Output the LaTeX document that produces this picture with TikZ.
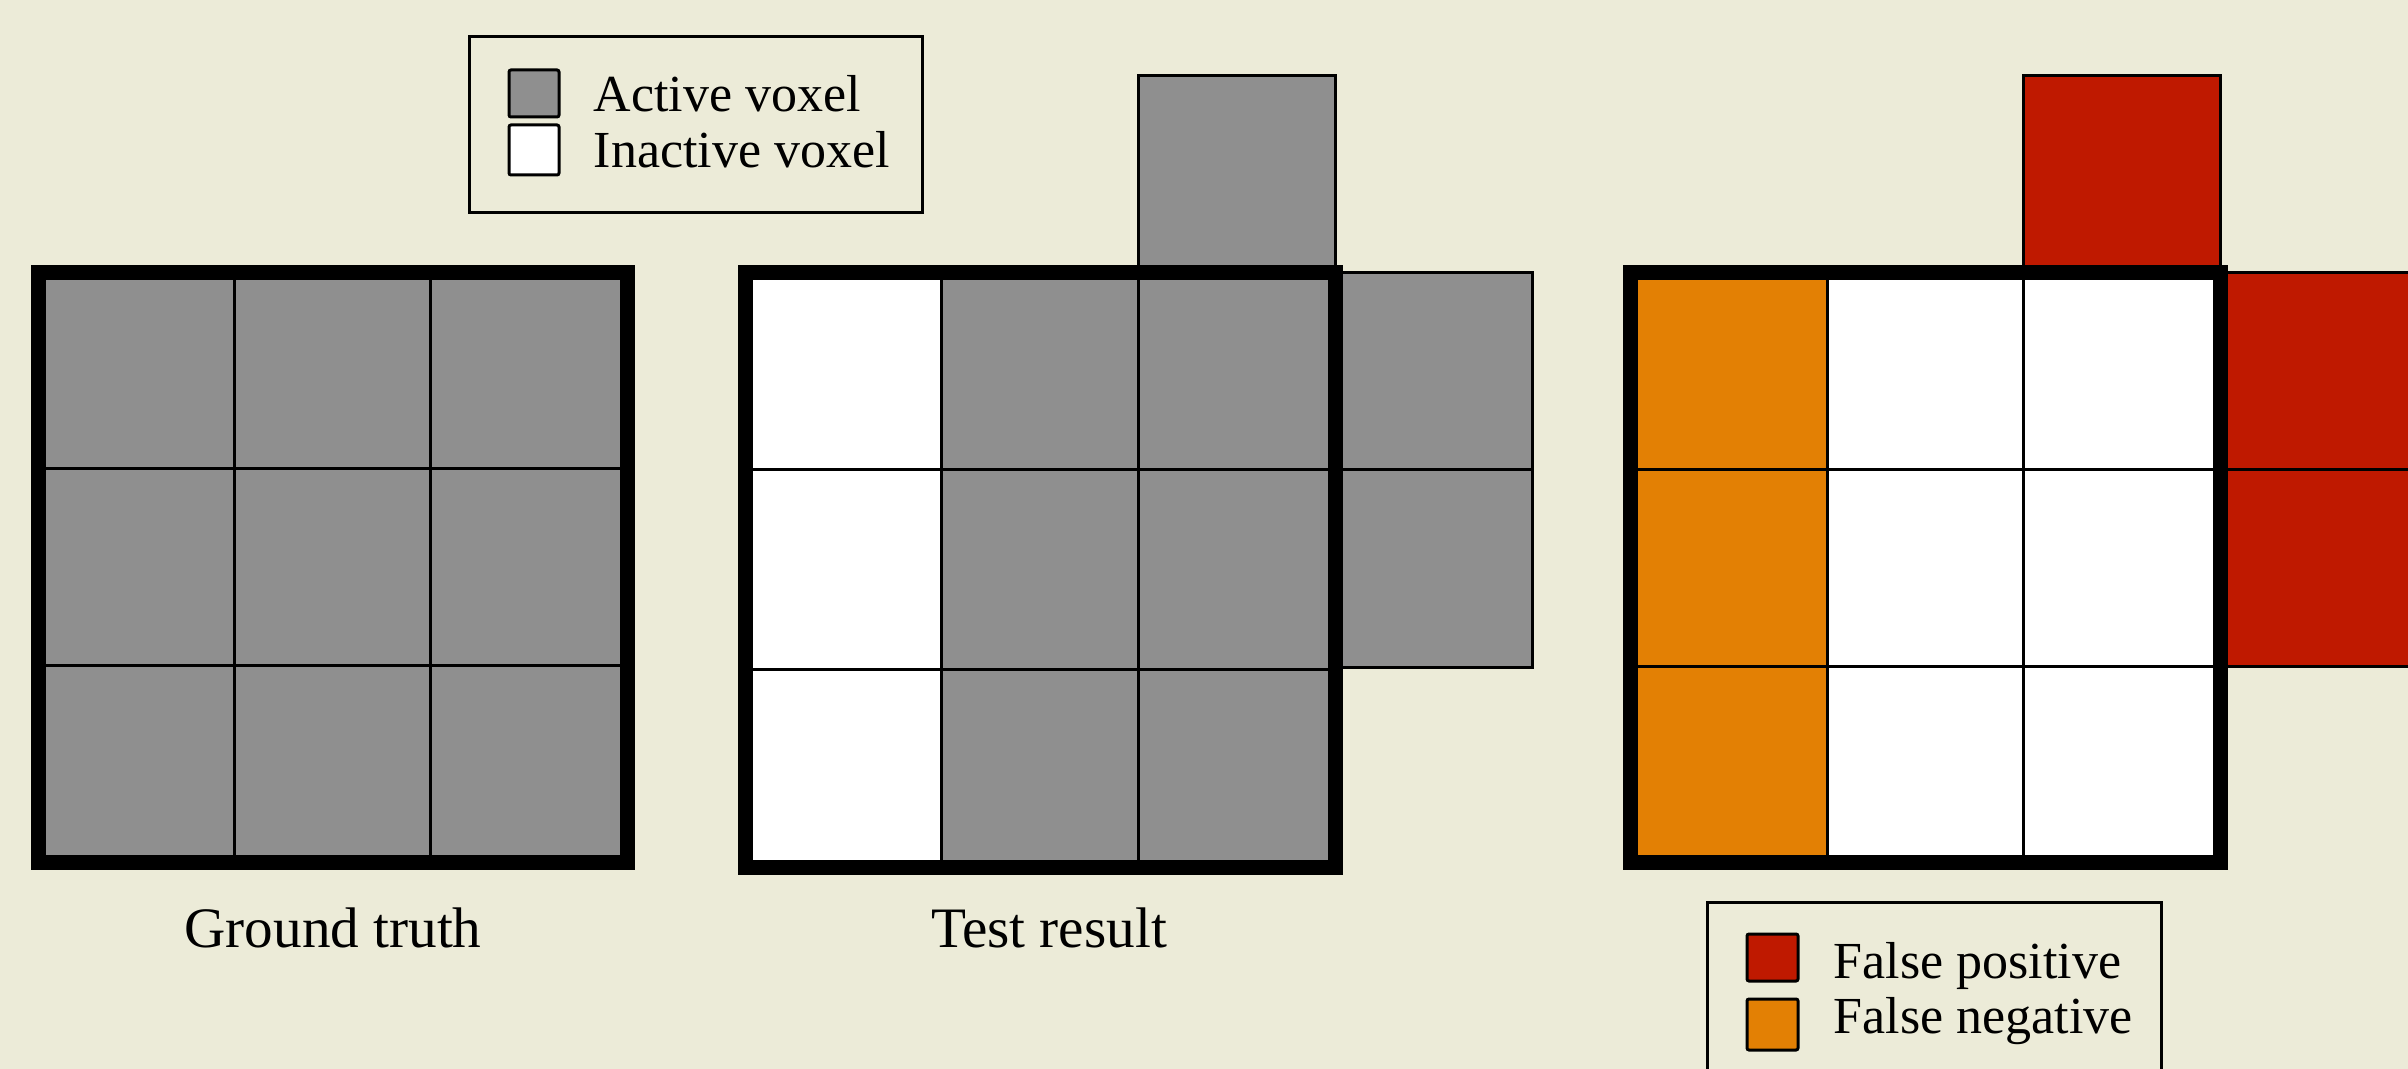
\documentclass[tikz,border=0pt]{standalone}
\usepackage{fontspec}
\setmainfont{Liberation Serif}
\definecolor{bg}{RGB}{236,235,216}
\definecolor{vgray}{RGB}{143,143,143}
\definecolor{fpred}{RGB}{191,25,0}
\definecolor{fnorange}{RGB}{227,128,4}
\begin{document}
\begin{tikzpicture}[x=0.25pt,y=-0.25pt,
  cellline/.style={line width=0.75pt, draw=black},
  thickborder/.style={line width=3.75pt, draw=black, line join=miter},
  lbl/.style={inner sep=0pt, anchor=base, font=\fontsize{14.3}{17}\selectfont},
  legtxt/.style={inner sep=0pt, anchor=base west, font=\fontsize{13}{16}\selectfont},
  legbox/.style={line width=0.75pt, draw=black},
  swatch/.style={line width=0.75pt, draw=black, rounded corners=0.5pt}]
\clip (0,0) rectangle (2408,1069);
\fill[bg] (0,0) rectangle (2408,1069);

% ---- Grid 1: ground truth
\fill[vgray] (38,273) rectangle (627,862);
\draw[cellline] (234,273)--(234,862) (430,273)--(430,862)
                (38,469)--(627,469) (38,665)--(627,665);
\draw[thickborder] (38,273) rectangle (627,862);

% ---- Grid 2: test result
\fill[white] (745,273) rectangle (941,867);
\fill[vgray] (941,273) rectangle (1335,867);
\filldraw[fill=vgray, cellline] (1138,76) rectangle (1335,273);
\filldraw[fill=vgray, cellline] (1335,273) rectangle (1532,470);
\filldraw[fill=vgray, cellline] (1335,470) rectangle (1532,667);
\draw[cellline] (941,273)--(941,867) (1138,273)--(1138,867)
                (745,470)--(1335,470) (745,669)--(1335,669);
\draw[thickborder] (745,273) rectangle (1335,867);

% ---- Grid 3: comparison
\fill[fnorange] (1630,273) rectangle (1827,862);
\fill[white] (1827,273) rectangle (2220,862);
\filldraw[fill=fpred, cellline] (2023,76) rectangle (2220,273);
\filldraw[fill=fpred, cellline] (2220,273) rectangle (2417,470);
\filldraw[fill=fpred, cellline] (2220,470) rectangle (2417,666);
\draw[cellline] (1827,273)--(1827,862) (2023,273)--(2023,862)
                (1630,470)--(2220,470) (1630,666)--(2220,666);
\draw[thickborder] (1630,273) rectangle (2220,862);

% ---- Labels
\node[lbl] (gt) at (333,947) {Ground truth};
\node[lbl] (tr) at (1049,947) {Test result};

% ---- Legend 1
\draw[legbox] (469,37) rectangle (922,213);
\filldraw[swatch, fill=vgray] (509,70) rectangle (559,117);
\filldraw[swatch, fill=white] (509,125) rectangle (559,175);
\node[legtxt] (act) at (593,112) {Active voxel};
\node[legtxt] (inact) at (593,168) {Inactive voxel};

% ---- Legend 2
\draw[legbox] (1707,902) rectangle (2161,1100);
\filldraw[swatch, fill=fpred] (1747,934) rectangle (1798,981);
\filldraw[swatch, fill=fnorange] (1747,999) rectangle (1798,1050);
\node[legtxt] (fp) at (1833,978) {False positive};
\node[legtxt] (fn) at (1833,1033) {False negative};
\end{tikzpicture}
\end{document}
